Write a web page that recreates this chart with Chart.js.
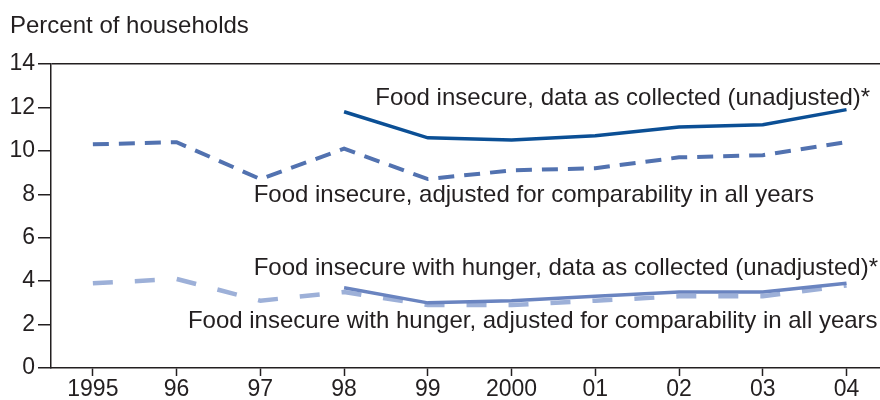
<!DOCTYPE html>
<html>
<head>
<meta charset="utf-8">
<script src="https://cdn.jsdelivr.net/npm/chart.js@4"></script>
<style>
  html, body { margin: 0; padding: 0; background: #fff; }
  #wrap { width: 880px; height: 400px; position: relative; }
</style>
</head>
<body>
<div id="wrap"><canvas id="grafico"></canvas></div>
<script>
// datos
const years = [1995, 1996, 1997, 1998, 1999, 2000, 2001, 2002, 2003, 2004];
const yearLabels = ['1995', '96', '97', '98', '99', '2000', '01', '02', '03', '04'];

const inseguroSinAjuste = [null, null, null, 11.8, 10.6, 10.5, 10.7, 11.1, 11.2, 11.9];
const inseguroAjustado = [10.3, 10.4, 8.7, 10.1, 8.7, 9.1, 9.2, 9.7, 9.8, 10.4];
const hambreSinAjuste = [null, null, null, 3.7, 3.0, 3.1, 3.3, 3.5, 3.5, 3.9];
const hambreAjustado = [3.9, 4.1, 3.1, 3.5, 2.9, 2.9, 3.1, 3.3, 3.3, 3.8];

const yTicks = [0, 2, 4, 6, 8, 10, 12, 14];

// etiquetas de las series (posicion en unidades de datos)
const etiquetas = [
  { text: 'Food insecure, data as collected (unadjusted)*', x: 2004.283, y: 12.11, align: 'right' },
  { text: 'Food insecure, adjusted for comparability in all years', x: 1996.92, y: 7.645, align: 'left' },
  { text: 'Food insecure with hunger, data as collected (unadjusted)*', x: 1996.92, y: 4.28, align: 'left' },
  { text: 'Food insecure with hunger, adjusted for comparability in all years', x: 1996.135, y: 1.84, align: 'left' }
];

const FUENTE = '"Liberation Sans", Arial, Helvetica, sans-serif';
const TINTA = '#231f20';

const toPoints = arr => years.map((y, i) => ({ x: y, y: arr[i] }));

const textosPlugin = {
  id: 'textos',
  afterDatasetsDraw(chart) {
    const { ctx, scales } = chart;
    ctx.save();
    ctx.fillStyle = TINTA;
    ctx.font = `24px ${FUENTE}`;
    ctx.textBaseline = 'alphabetic';
    ctx.textAlign = 'left';
    ctx.fillText('Percent of households', 10, 33);
    etiquetas.forEach(e => {
      ctx.textAlign = e.align;
      ctx.fillText(e.text, scales.x.getPixelForValue(e.x), scales.y.getPixelForValue(e.y));
    });
    ctx.restore();
  }
};

new Chart(document.getElementById('grafico'), {
  type: 'line',
  data: {
    datasets: [
      {
        label: 'Food insecure, data as collected (unadjusted)*',
        data: toPoints(inseguroSinAjuste),
        borderColor: '#0b4f95',
        borderWidth: 3.5,
        order: 0
      },
      {
        label: 'Food insecure, adjusted for comparability in all years',
        data: toPoints(inseguroAjustado),
        borderColor: '#5272b0',
        borderWidth: 4,
        borderDash: [16, 10],
        order: 1
      },
      {
        label: 'Food insecure with hunger, data as collected (unadjusted)*',
        data: toPoints(hambreSinAjuste),
        borderColor: '#6a84c0',
        borderWidth: 3.5,
        order: 2
      },
      {
        label: 'Food insecure with hunger, adjusted for comparability in all years',
        data: toPoints(hambreAjustado),
        borderColor: '#9db0d8',
        borderWidth: 4.5,
        borderDash: [20, 22],
        order: 3
      }
    ]
  },
  options: {
    responsive: true,
    maintainAspectRatio: false,
    animation: false,
    layout: { padding: { top: 64, left: 0, right: 0, bottom: 0 } },
    elements: {
      point: { radius: 0, hoverRadius: 0 },
      line: { tension: 0, fill: false, borderCapStyle: 'butt', borderJoinStyle: 'miter' }
    },
    plugins: {
      legend: { display: false },
      tooltip: { enabled: false },
      title: { display: false }
    },
    scales: {
      x: {
        type: 'linear',
        min: 1994.5,
        max: 2004.4,
        afterBuildTicks: s => { s.ticks = years.map(v => ({ value: v })); },
        afterFit: s => { s.height = 32; },
        ticks: {
          autoSkip: false,
          maxRotation: 0,
          padding: 0,
          color: TINTA,
          font: { family: FUENTE, size: 23 },
          callback: (v, i) => yearLabels[i]
        },
        grid: { drawOnChartArea: false, tickLength: 8, tickColor: TINTA, tickWidth: 1.5 },
        border: { display: true, color: TINTA, width: 1.5 }
      },
      y: {
        min: 0,
        max: 14,
        afterBuildTicks: s => { s.ticks = yTicks.map(v => ({ value: v })); },
        afterFit: s => { s.width = 51; },
        ticks: {
          padding: 3,
          color: TINTA,
          font: { family: FUENTE, size: 23 }
        },
        grid: {
          drawOnChartArea: true,
          color: c => (c.tick && c.tick.value === 14 ? TINTA : 'rgba(0,0,0,0)'),
          lineWidth: 1.5,
          tickLength: 13,
          tickColor: TINTA,
          tickWidth: 1.5
        },
        border: { display: true, color: TINTA, width: 1.5 }
      }
    }
  },
  plugins: [textosPlugin]
});
</script>
</body>
</html>
